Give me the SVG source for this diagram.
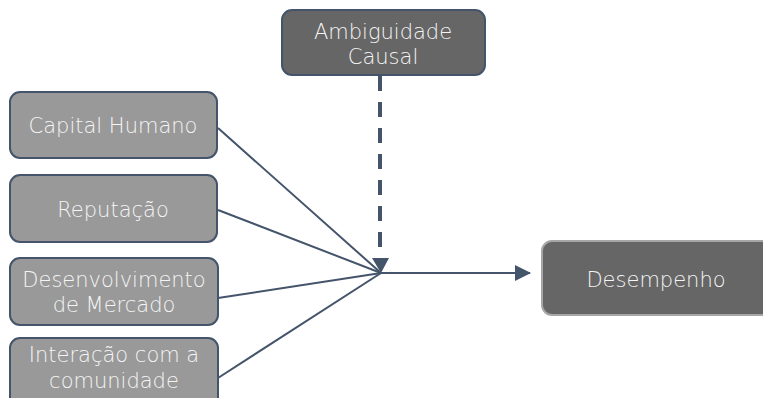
<svg xmlns="http://www.w3.org/2000/svg" width="763" height="398" viewBox="0 0 763 398">
<style>
.box{fill:#999999;stroke:#44546a;stroke-width:2}
.dark{fill:#666666;stroke:#44546a;stroke-width:2}
.dark2{fill:#666666;stroke:#a6a6a6;stroke-width:2}
text{font-family:"DejaVu Sans",sans-serif;font-size:21px;fill:#f5f5f5;text-anchor:middle;font-weight:300}
.conn{stroke:#44546a;stroke-width:2;fill:none}
</style>
<defs>
<marker id="arr" markerWidth="16" markerHeight="16" refX="15" refY="8" orient="auto" markerUnits="userSpaceOnUse">
<path d="M0,0 L16,8 L0,16 Z" fill="#44546a"/>
</marker>
</defs>
<rect width="763" height="398" fill="#ffffff"/>
<g id="connectors">
<line class="conn" x1="218" y1="128" x2="381" y2="273"/>
<line class="conn" x1="218" y1="210" x2="381" y2="273"/>
<line class="conn" x1="218" y1="298" x2="381" y2="273"/>
<line class="conn" x1="218" y1="378" x2="381" y2="273"/>
<line class="conn" x1="381" y1="273" x2="530" y2="273" marker-end="url(#arr)"/>
<line x1="380" y1="76" x2="380" y2="258" stroke="#44546a" stroke-width="4" stroke-dasharray="15,11"/>
<path d="M372,258 L389,258 L381,273 Z" fill="#44546a"/>
</g>
<g id="n-ambiguidade">
<rect class="dark" x="282" y="10" width="203" height="65" rx="10"/>
<text x="383" y="39">Ambiguidade</text>
<text x="383" y="64">Causal</text>
</g>
<g id="n-capital">
<rect class="box" x="10" y="92" width="207" height="66" rx="10"/>
<text x="113" y="133">Capital Humano</text>
</g>
<g id="n-reputacao">
<rect class="box" x="10" y="175" width="207" height="67" rx="10"/>
<text x="113" y="217">Reputação</text>
</g>
<g id="n-desenvolvimento">
<rect class="box" x="10" y="258" width="208" height="67" rx="10"/>
<text x="114" y="287">Desenvolvimento</text>
<text x="114" y="312">de Mercado</text>
</g>
<g id="n-interacao">
<rect class="box" x="10" y="338" width="208" height="70" rx="10"/>
<text x="114" y="362">Interação com a</text>
<text x="114" y="388">comunidade</text>
</g>
<g id="n-desempenho">
<rect class="dark2" x="542" y="241" width="230" height="74" rx="10"/>
<text x="656" y="287">Desempenho</text>
</g>
</svg>
